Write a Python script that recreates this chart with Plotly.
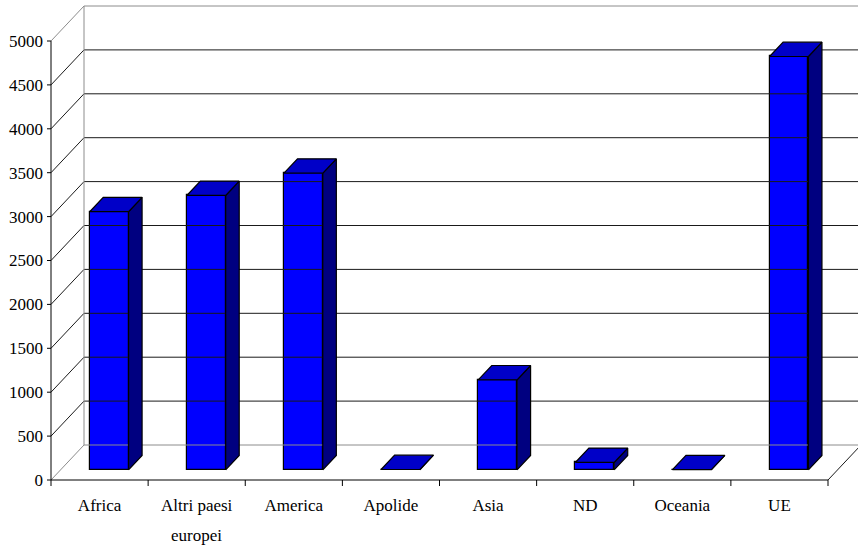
import plotly.graph_objects as go

# ---- data -------------------------------------------------------------
categories = ["Africa", "Altri paesi europei", "America", "Apolide",
              "Asia", "ND", "Oceania", "UE"]
tick_labels = ["Africa", "Altri paesi", "America", "Apolide",
               "Asia", "ND", "Oceania", "UE"]
values = [2940, 3125, 3379, 4, 1025, 84, 2, 4708]
y_ticks = list(range(0, 5001, 500))

# ---- geometry (oblique 3D look) ----------------------------------------
W, H = 858, 548
PLOT_L, PLOT_R, PLOT_T, PLOT_B = 44, 858, 4, 487   # plot area in px
AX_X0, AX_Y0 = 51, 480                              # front axes origin px
PX_X = (828 - 51) / 8.0                             # px per category
PX_Y = 439 / 5000.0                                 # px per unit

DX = 33 / PX_X          # wall depth along x (data units)
DY = 35 / PX_Y          # wall depth along y (data units)
F0, F1 = 0.29, 0.70     # bar depth span as fraction of wall depth
BAR_W = 0.40

x_range = [-0.5 - (AX_X0 - PLOT_L) / PX_X, -0.5 + (PLOT_R - AX_X0) / PX_X]
y_range = [-(PLOT_B - AX_Y0) / PX_Y, (AX_Y0 - PLOT_T) / PX_Y]

FRONT = "#0000FF"
TOP = "#0000C8"
SIDE = "#000080"
GRID = "#1a1a1a"
WALL = "#8c8c8c"

SERIF = "Liberation Serif"

fig = go.Figure()


def line(xs, ys, color, width=1):
    fig.add_trace(go.Scatter(x=xs, y=ys, mode="lines",
                             line=dict(color=color, width=width),
                             hoverinfo="skip", showlegend=False))


# back wall gridlines with their diagonals on the left wall
x_left, x_right = -0.5, len(categories) - 0.5
for v in y_ticks:
    col = WALL if v in (0, y_ticks[-1]) else GRID
    line([x_left, x_left + DX, x_right + DX],
         [v, v + DY, v + DY], col)

# back wall left edge
line([x_left + DX, x_left + DX], [DY, y_ticks[-1] + DY], WALL)
# floor right edge
line([x_right, x_right + DX], [0, DY], GRID)

# front axes
line([x_left, x_left], [0, y_ticks[-1]], "#000000")
line([x_left, x_right], [0, 0], "#000000")

# y tick marks
tick_len_x = 4 / PX_X
for v in y_ticks:
    line([x_left - tick_len_x, x_left], [v, v], "#000000")
# x tick marks at category boundaries
tick_len_y = 6 / PX_Y
for k in range(len(categories) + 1):
    xb = x_left + k
    line([xb, xb], [0, -tick_len_y], "#000000")

# bars: front face (bar), top and side faces (filled polygons)
bx0, by0 = F0 * DX, F0 * DY
ddx, ddy = (F1 - F0) * DX, (F1 - F0) * DY
centers = [i + bx0 for i in range(len(categories))]

fig.add_trace(go.Bar(x=centers, y=values, base=[by0] * len(values),
                     width=BAR_W,
                     marker=dict(color=FRONT, line=dict(color="#000000", width=1.2)),
                     hoverinfo="skip", showlegend=False))

for c, v in zip(centers, values):
    xl, xr = c - BAR_W / 2, c + BAR_W / 2
    yt = by0 + v
    # side face
    fig.add_trace(go.Scatter(
        x=[xr, xr + ddx, xr + ddx, xr, xr],
        y=[by0, by0 + ddy, yt + ddy, yt, by0],
        mode="lines", fill="toself", fillcolor=SIDE,
        line=dict(color="#000000", width=1.2),
        hoverinfo="skip", showlegend=False))
    # top face
    fig.add_trace(go.Scatter(
        x=[xl, xr, xr + ddx, xl + ddx, xl],
        y=[yt, yt, yt + ddy, yt + ddy, yt],
        mode="lines", fill="toself", fillcolor=TOP,
        line=dict(color="#000000", width=1.2),
        hoverinfo="skip", showlegend=False))

font = dict(family=SERIF, size=17, color="#000000")

# second line of the wrapped category label
fig.add_annotation(x=1, xref="x", y=0, yref="paper", yanchor="top",
                   yshift=-37, text="europei", showarrow=False, font=font)

fig.update_layout(
    width=W, height=H,
    margin=dict(l=PLOT_L, r=W - PLOT_R, t=PLOT_T, b=H - PLOT_B),
    paper_bgcolor="white", plot_bgcolor="white",
    font=font,
    xaxis=dict(range=x_range, showgrid=False, zeroline=False, showline=False,
               tickmode="array", tickvals=list(range(len(categories))),
               ticktext=tick_labels, ticks="", tickfont=font,
               ticklabelstandoff=6),
    yaxis=dict(range=y_range, showgrid=False, zeroline=False, showline=False,
               tickmode="array", tickvals=y_ticks,
               ticktext=[str(v) for v in y_ticks], ticks="", tickfont=font,
               ticklabelstandoff=0),
    bargap=0,
)

fig.write_html("out.html")
